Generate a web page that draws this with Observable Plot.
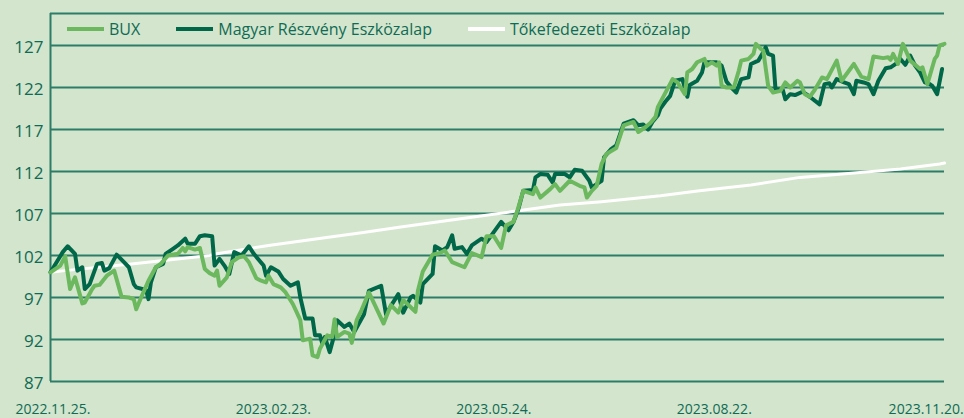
<!DOCTYPE html>
<html>
<head>
<meta charset="utf-8">
<script src="https://cdn.jsdelivr.net/npm/d3@7"></script>
<script src="https://cdn.jsdelivr.net/npm/@observablehq/plot@0.6"></script>
<style>
  html, body { margin: 0; padding: 0; background: #d3e5cc; }
  #wrap { position: relative; width: 964px; height: 418px; overflow: hidden; font-family: "Open Sans", sans-serif; }
  #legend { position: absolute; top: 14px; left: 67px; height: 30px; display: flex; align-items: center; font-size: 16px; color: #0f6b55; white-space: nowrap; }
  .item { display: flex; align-items: center; margin-right: 36px; }
  .sw { width: 37px; height: 4px; margin-right: 5px; }
</style>
</head>
<body>
<div id="wrap"><div id="legend"></div></div>
<script>
// ---- data (day offset from 2022-11-24, index value) ----
const seriesNames = ["BUX", "Magyar Részvény Eszközalap", "Tőkefedezeti Eszközalap"];
const startDate = "2022-11-24";
const endDate = "2023-11-24";
const yTicks = [87, 92, 97, 102, 107, 112, 117, 122, 127];
const xTickDates = ["2022-11-25", "2023-02-23", "2023-05-24", "2023-08-22", "2023-11-20"];

const bux = [[0,100.0],[4,100.8],[6,101.9],[8,98.0],[10,99.4],[13,96.3],[14,96.4],[17,98.0],[18,98.4],[20,98.5],[23,99.6],[26,100.2],[29,97.1],[32,97.0],[34,96.8],[35,95.6],[37,97.0],[40,99.0],[43,100.6],[45,101.0],[48,102.0],[52,102.2],[54,102.9],[55,102.5],[56,103.0],[59,102.7],[61,102.9],[63,100.4],[65,99.9],[67,99.6],[68,100.2],[69,98.4],[72,99.4],[74,101.2],[77,101.8],[79,101.9],[81,101.2],[84,99.3],[86,99.0],[88,98.8],[89,99.6],[91,98.6],[94,98.2],[96,97.6],[99,96.2],[102,94.3],[103,91.9],[106,92.1],[107,90.1],[109,89.9],[110,90.9],[113,92.5],[115,92.3],[116,94.4],[117,92.3],[120,92.9],[122,92.7],[123,91.6],[125,94.3],[127,95.5],[130,97.6],[136,93.9],[139,96.1],[142,95.2],[144,96.7],[149,95.3],[150,97.8],[152,100.1],[156,102.1],[159,102.3],[161,102.6],[164,101.2],[169,100.6],[172,102.3],[176,101.8],[178,104.3],[181,104.3],[184,102.9],[186,105.6],[189,106.0],[191,107.7],[193,109.7],[197,109.3],[198,110.1],[200,108.9],[204,109.9],[206,110.5],[208,109.7],[212,110.9],[216,110.3],[218,110.1],[219,108.9],[221,109.7],[223,110.3],[225,112.9],[227,114.1],[231,114.8],[234,117.5],[238,117.9],[240,116.7],[243,117.3],[245,117.8],[247,118.5],[248,119.7],[250,120.8],[254,123.0],[256,122.6],[259,121.2],[260,123.8],[262,124.2],[264,125.0],[267,125.4],[268,124.6],[270,125.0],[272,124.6],[273,125.0],[274,122.2],[276,122.0],[279,122.0],[281,124.0],[282,125.2],[285,125.4],[287,126.0],[288,127.2],[290,126.6],[291,126.4],[293,122.2],[295,121.4],[298,121.6],[300,122.6],[302,122.0],[305,122.8],[306,122.6],[308,121.2],[310,120.9],[312,121.7],[315,123.2],[317,123.0],[321,125.2],[323,122.8],[328,124.8],[331,123.3],[334,123.0],[336,125.7],[340,125.5],[342,125.6],[343,125.3],[344,126.0],[346,124.8],[348,127.2],[351,125.2],[355,124.2],[356,124.4],[358,122.4],[361,125.4],[362,125.8],[363,127.0],[365,127.2]];

const magyar = [[0,100.0],[5,102.4],[7,103.1],[10,102.2],[11,100.2],[13,100.6],[14,98.0],[16,98.6],[19,101.0],[21,101.1],[22,100.2],[24,100.5],[27,102.1],[30,101.2],[32,100.6],[34,98.6],[35,98.2],[39,97.9],[40,96.8],[41,98.8],[43,100.6],[46,101.0],[47,102.2],[50,102.8],[52,103.2],[55,104.0],[56,103.4],[59,103.4],[61,104.3],[63,104.4],[66,104.3],[67,100.8],[69,101.6],[71,100.8],[73,99.8],[75,102.4],[78,102.0],[81,103.1],[83,102.2],[85,101.5],[87,100.8],[88,99.6],[90,100.6],[93,100.1],[95,99.2],[98,98.4],[101,98.8],[102,97.0],[104,94.5],[107,94.5],[108,92.5],[110,92.5],[111,91.5],[112,92.3],[114,90.5],[116,92.7],[117,94.3],[120,93.5],[122,93.9],[124,92.9],[128,95.0],[130,97.8],[135,98.4],[137,95.0],[139,96.0],[142,97.4],[144,95.2],[147,97.0],[148,97.2],[151,96.4],[152,98.6],[156,99.8],[157,103.1],[160,102.6],[162,103.0],[164,104.4],[165,102.8],[168,103.0],[170,102.2],[172,103.2],[176,104.0],[178,103.6],[184,106.0],[187,105.0],[189,106.0],[191,107.5],[193,109.7],[197,109.8],[198,111.3],[200,111.7],[203,111.6],[205,110.7],[206,111.7],[210,111.7],[212,111.3],[214,112.2],[217,112.1],[220,110.9],[221,110.1],[223,110.5],[225,110.9],[226,113.7],[229,114.7],[231,115.1],[234,117.7],[238,118.1],[240,117.5],[242,117.6],[244,117.0],[246,118.0],[248,118.7],[249,119.5],[251,120.3],[253,121.0],[255,122.8],[258,123.0],[260,120.9],[261,122.3],[264,122.8],[266,123.8],[267,125.0],[270,125.0],[272,125.0],[274,124.6],[276,122.7],[278,122.0],[280,121.4],[282,123.0],[285,123.2],[286,124.8],[289,125.2],[291,126.2],[292,126.8],[293,126.0],[295,125.8],[296,121.8],[299,121.7],[300,120.6],[302,121.2],[304,121.1],[307,121.5],[310,120.9],[314,120.0],[316,122.4],[318,122.5],[319,122.0],[321,123.0],[324,122.6],[326,122.4],[328,121.2],[329,122.8],[332,122.6],[334,122.4],[336,121.2],[338,122.8],[341,124.3],[343,124.4],[346,125.0],[347,125.4],[349,124.7],[351,125.8],[353,124.6],[355,123.8],[357,122.6],[359,122.4],[360,122.2],[362,121.2],[364,124.2]];

const tokefedezeti = [[0,100.0],[6,100.2],[33,101.0],[65,102.0],[68,102.2],[89,103.2],[109,104.0],[127,104.7],[143,105.4],[163,106.2],[188,107.2],[208,108.0],[225,108.4],[249,109.1],[265,109.7],[286,110.4],[306,111.3],[327,111.8],[347,112.3],[363,112.9],[365,113.0]];

// ---- styling ----
const colors = ["#6cb85f", "#006848", "#ffffff"];
const gridColor = "#2d7c67";
const textColor = "#0f6b55";

const t0 = new Date(startDate);
const toRows = arr => arr.map(([d, v]) => ({date: d3.utcDay.offset(t0, d), value: v}));
const yDomain = [87, 130.81];
const xDomain = [t0, new Date(endDate)];
const xTicks = xTickDates.map(s => new Date(s));
const fmt = d3.utcFormat("%Y.%m.%d.");

const chart = Plot.plot({
  width: 964, height: 418,
  marginLeft: 50, marginRight: 20, marginTop: 13, marginBottom: 37,
  style: {background: "transparent", fontFamily: "'Open Sans', sans-serif", color: textColor, overflow: "visible"},
  x: {type: "utc", domain: xDomain},
  y: {domain: yDomain},
  marks: [
    Plot.ruleY(yTicks, {stroke: gridColor, strokeWidth: 2}),
    Plot.ruleY([yDomain[1]], {stroke: gridColor, strokeWidth: 2}),
    Plot.ruleX([xDomain[0]], {stroke: gridColor, strokeWidth: 2}),
    Plot.axisY({ticks: yTicks, tickSize: 0, tickPadding: 7, fontSize: 17, label: null, dy: 2}),
    Plot.axisX({ticks: xTicks.slice(0, -1), tickSize: 0, tickPadding: 23, fontSize: 14, label: null, tickFormat: fmt}),
    Plot.axisX({ticks: xTicks.slice(-1), tickSize: 0, tickPadding: 23, fontSize: 14, label: null, tickFormat: fmt, textAnchor: "end", dx: 29}),
    Plot.line(toRows(tokefedezeti), {x: "date", y: "value", stroke: colors[2], strokeWidth: 3}),
    Plot.line(toRows(magyar), {x: "date", y: "value", stroke: colors[1], strokeWidth: 4, strokeLinejoin: "round"}),
    Plot.line(toRows(bux), {x: "date", y: "value", stroke: colors[0], strokeWidth: 4, strokeLinejoin: "round"})
  ]
});
const wrap = document.getElementById("wrap");
wrap.insertBefore(chart, wrap.firstChild);

const legend = document.getElementById("legend");
seriesNames.forEach((n, i) => {
  const it = document.createElement("div");
  it.className = "item";
  const sw = document.createElement("span");
  sw.className = "sw";
  sw.style.background = colors[i];
  const tx = document.createElement("span");
  tx.textContent = n;
  it.appendChild(sw); it.appendChild(tx);
  legend.appendChild(it);
});
</script>
</body>
</html>
